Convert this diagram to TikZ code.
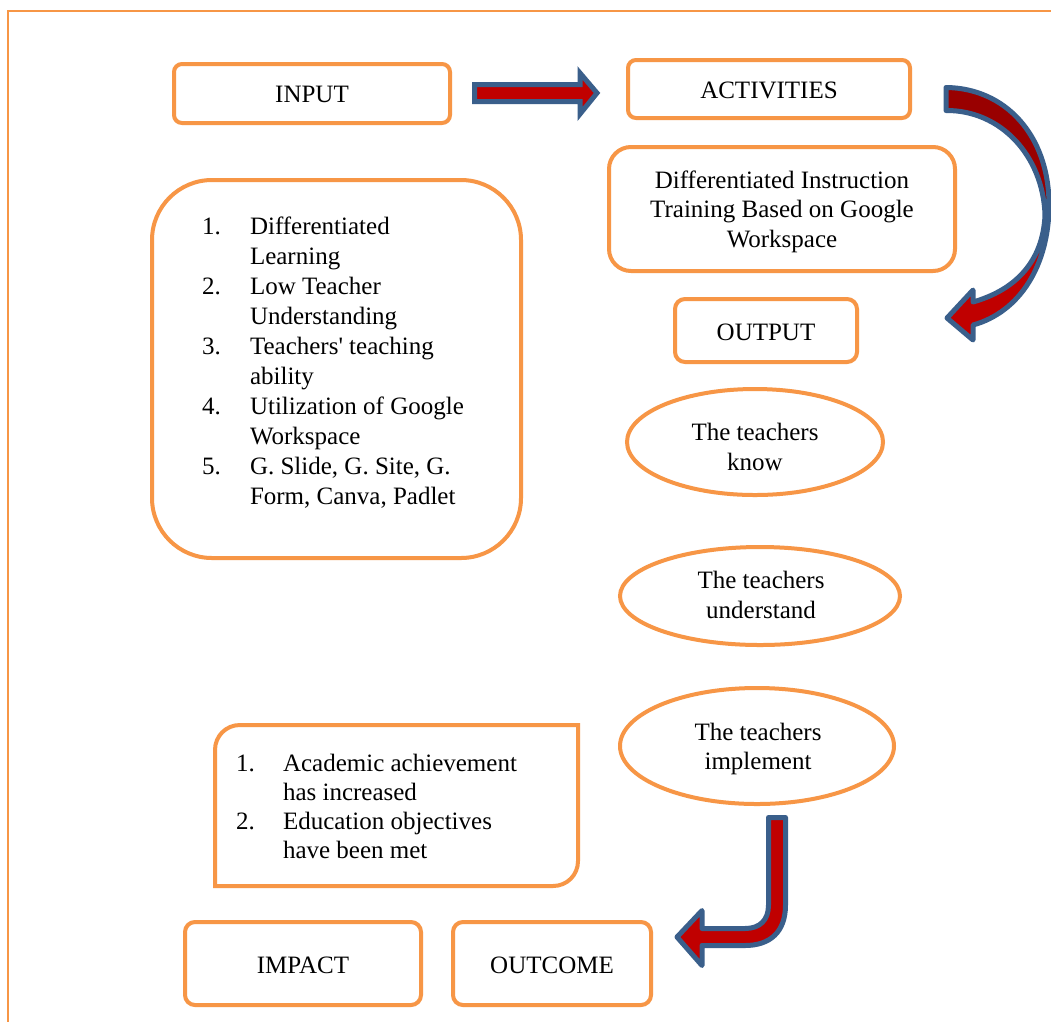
\documentclass[tikz,border=0pt]{standalone}
\usepackage{fontspec}
\setmainfont{Liberation Serif}[Ligatures=TeXOff]
\usetikzlibrary{shapes.geometric}
\definecolor{boxor}{HTML}{F79646}
\definecolor{arrblue}{HTML}{3A5F8B}
\definecolor{arrred}{HTML}{C00000}
\definecolor{arrdark}{HTML}{990000}
\begin{document}
\begin{tikzpicture}[x=1pt,y=-1pt,
  every node/.style={font=\fontsize{25}{30}\selectfont, inner sep=0pt, outer sep=0pt},
  obox/.style={draw=boxor, line width=4pt},
  oell/.style={draw=boxor, line width=4pt, ellipse},
  blockarrow/.style={draw=arrblue, line width=5pt, fill=arrred}]
\useasboundingbox (0,0) rectangle (1051,1021);
\fill[white] (0,0) rectangle (1051,1021);
\begin{scope}
\clip (0,0) rectangle (1051,1021);
\draw[boxor, line width=1.5pt] (8,11) rectangle (1080,1050);
\end{scope}

% boxes
\node[obox, rounded corners=8pt, minimum width=276pt, minimum height=59pt] (input) at (312,93.5) {};
\node[obox, rounded corners=8pt, minimum width=282pt, minimum height=58pt] (activities) at (769,89) {};
\node[obox, rounded corners=22pt, minimum width=346pt, minimum height=124pt] (diff) at (782,209) {};
\node[obox, rounded corners=10pt, minimum width=182pt, minimum height=63pt] (output) at (766,330.5) {};
\node[obox, rounded corners=60pt, minimum width=369pt, minimum height=378pt] (inlistbox) at (336.5,369) {};
\node[obox, rounded corners=10pt, minimum width=236pt, minimum height=83pt] (impact) at (303,963.5) {};
\node[obox, rounded corners=10pt, minimum width=198pt, minimum height=83pt] (outcome) at (552,963.5) {};
\node[oell, minimum width=256pt, minimum height=106pt] (know) at (755,442) {};
\node[oell, minimum width=280pt, minimum height=98pt] (understand) at (760,596) {};
\node[oell, minimum width=274pt, minimum height=116pt] (implement) at (757,746) {};
\draw[obox] (215,886) -- (215,750) .. controls (215,736) and (226,725) .. (240,725) -- (578,725) -- (578,861) .. controls (578,875) and (567,886) .. (553,886) -- cycle;

% texts
\node[anchor=base] (tinput) at (312,102) {INPUT};
\node[anchor=base] (tactivities) at (769,98) {ACTIVITIES};
\node[anchor=base] (tdiff) at (782,188) {\begin{tabular}[t]{@{}c@{}}Differentiated Instruction\\[-0.5pt] Training Based on Google\\[-0.5pt] Workspace\end{tabular}};
\node[anchor=base] (toutput) at (766,340) {OUTPUT};
\node[anchor=base] (tknow) at (755,440) {\begin{tabular}[t]{@{}c@{}}The teachers\\ know\end{tabular}};
\node[anchor=base] (tunderstand) at (761,588) {\begin{tabular}[t]{@{}c@{}}The teachers\\ understand\end{tabular}};
\node[anchor=base] (timplement) at (758,740) {\begin{tabular}[t]{@{}c@{}}The teachers\\[-1pt] implement\end{tabular}};
\node[anchor=base] (timpact) at (303,973) {IMPACT};
\node[anchor=base] (toutcome) at (552,973) {OUTCOME};
\node[anchor=base west] (inlist) at (202,234) {\begin{tabular}[t]{@{}p{48pt}@{}l@{}}
1. & Differentiated\\ & Learning\\
2. & Low Teacher\\ & Understanding\\
3. & Teachers' teaching\\ & ability\\
4. & Utilization of Google\\ & Workspace\\
5. & G. Slide, G. Site, G.\\ & Form, Canva, Padlet
\end{tabular}};
\node[anchor=base west] (outlist) at (236,771) {\begin{tabular}[t]{@{}p{47pt}@{}l@{}}
1. & Academic achievement\\[-0.8pt] & has increased\\[-0.8pt]
2. & Education objectives\\[-0.8pt] & have been met
\end{tabular}};

% straight block arrow INPUT -> ACTIVITIES
\draw[blockarrow, line join=miter] (474.5,84.5) -- (580,84.5) -- (580,73) -- (597,93) -- (580,114) -- (580,101.5) -- (474.5,101.5) -- cycle;

% curved block arrow ACTIVITIES -> OUTPUT
\fill[arrred] (946,87.5) .. controls (1005,88) and (1049,135) .. (1049,205)
  .. controls (1049,265) and (1020,312) .. (973,325)
  -- (973,340) -- (947,318) -- (973,290) -- (973,302)
  .. controls (1015,290) and (1043,262) .. (1045,215)
  .. controls (1043,155) and (1000,110) .. (946,110.5) -- cycle;
\fill[arrdark] (946,87.5) .. controls (1005,88) and (1049,135) .. (1049,205)
  -- (1045,215) .. controls (1043,155) and (1000,110) .. (946,110.5) -- cycle;
\draw[arrblue, line width=5pt, line join=round] (946,87.5) .. controls (1005,88) and (1049,135) .. (1049,205)
  .. controls (1049,265) and (1020,312) .. (973,325)
  -- (973,340) -- (947,318) -- (973,290) -- (973,302)
  .. controls (1015,290) and (1043,262) .. (1045,215)
  .. controls (1043,155) and (1000,110) .. (946,110.5) -- cycle;

% bent block arrow implement -> OUTCOME
\draw[blockarrow, line join=round] (768.5,817.5) -- (785.5,817.5) -- (785.5,905)
  .. controls (785.5,932) and (770,945.5) .. (745,945.5) -- (702,945.5) -- (702,965.5)
  -- (677,937) -- (702,910.5) -- (702,928.5) -- (745,928.5)
  .. controls (760,928.5) and (768.5,920) .. (768.5,905) -- cycle;
\end{tikzpicture}
\end{document}
